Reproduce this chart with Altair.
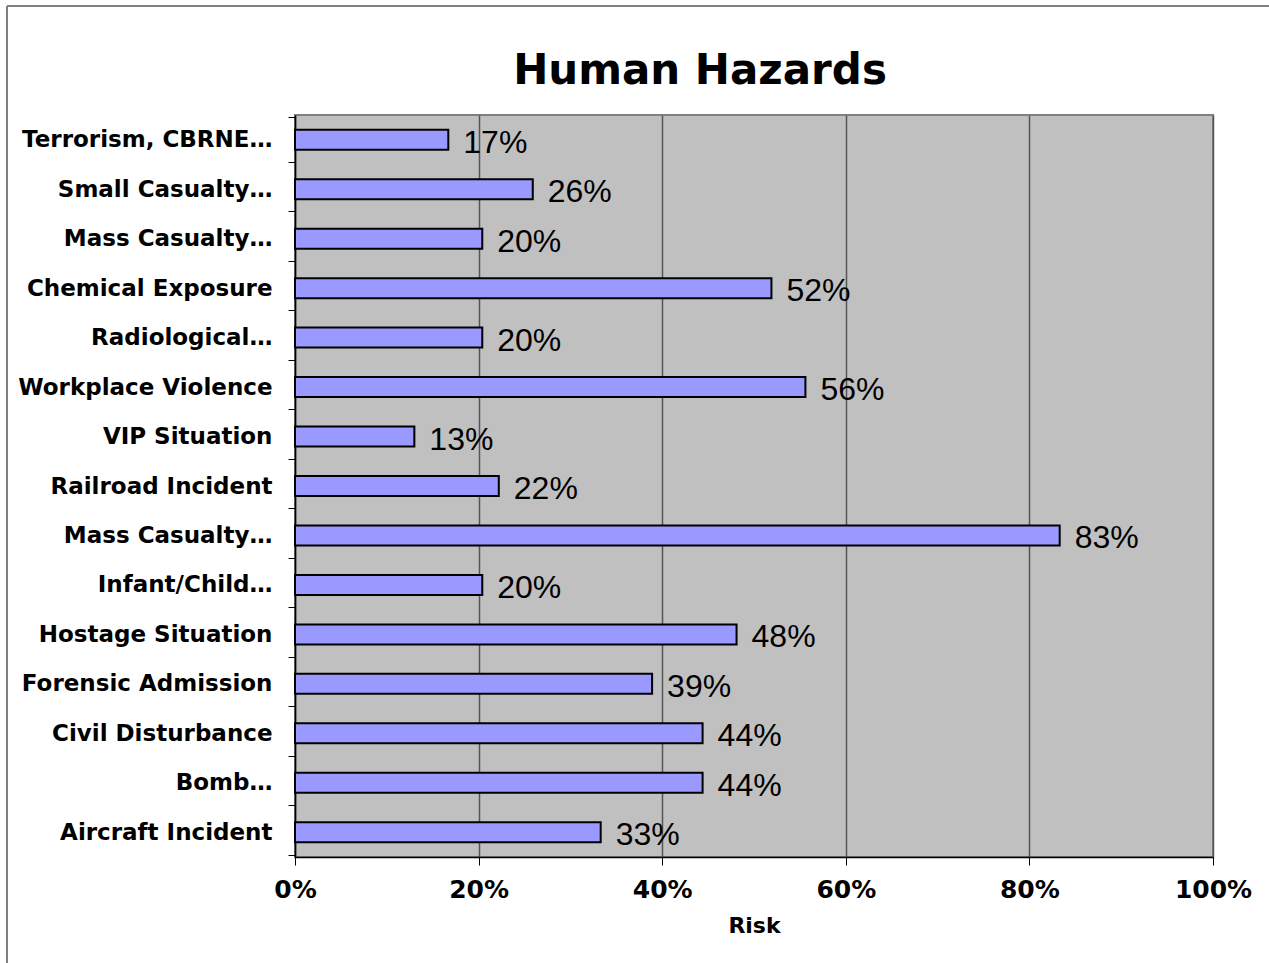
import altair as alt
import pandas as pd
import json

title_text = ["Human Hazards"]
categories = [
    "Terrorism, CBRNE…",
    "Small Casualty…",
    "Mass Casualty…",
    "Chemical Exposure",
    "Radiological…",
    "Workplace Violence",
    "VIP Situation",
    "Railroad Incident",
    "Mass Casualty…",
    "Infant/Child…",
    "Hostage Situation",
    "Forensic Admission",
    "Civil Disturbance",
    "Bomb…",
    "Aircraft Incident",
]
risk = [0.167, 0.259, 0.204, 0.519, 0.204, 0.556, 0.130, 0.222, 0.833,
        0.204, 0.481, 0.389, 0.444, 0.444, 0.333]
x_ticks = [0, 0.2, 0.4, 0.6, 0.8, 1.0]

df = pd.DataFrame({"idx": list(range(len(categories))), "label": categories, "risk": risk})
one = pd.DataFrame({"t": title_text})

W, H = 918, 742
label_expr = json.dumps(categories, ensure_ascii=False) + "[datum.value]"

base = alt.Chart(df)

bars = base.mark_bar(size=20, fill="#9999FF", stroke="black", strokeWidth=2).encode(
    x=alt.X("risk:Q", scale=alt.Scale(domain=[0, 1], nice=False),
            axis=alt.Axis(values=x_ticks, format=".0%", title="Risk",
                          grid=True, gridColor="#555555", gridWidth=1.5,
                          domainColor="black", domainWidth=1.5,
                          tickColor="black", tickSize=8, tickWidth=1,
                          labelFlush=False,
                          labelFont="DejaVu Sans", labelFontWeight="bold",
                          labelFontSize=25, labelColor="black", labelPadding=12,
                          titleFont="DejaVu Sans", titleFontWeight="bold",
                          titleFontSize=22, titleColor="black", titlePadding=13)),
    y=alt.Y("idx:O", title=None,
            axis=alt.Axis(labelExpr=label_expr, tickBand="extent",
                          domainColor="black", domainWidth=1.5,
                          tickColor="black", tickSize=7, tickWidth=1,
                          labelFont="DejaVu Sans", labelFontWeight="bold",
                          labelFontSize=23, labelColor="black", labelPadding=16,
                          labelLimit=400)),
)

texts = base.mark_text(align="left", baseline="middle", dx=15, dy=3,
                       font="Liberation Sans", fontSize=32, color="black").encode(
    x="risk:Q",
    y="idx:O",
    text=alt.Text("risk:Q", format=".0%"),
)

title = alt.Chart(one).mark_text(align="center", baseline="alphabetic",
                                 font="DejaVu Sans", fontSize=42, fontWeight="bold",
                                 color="black").encode(
    text="t:N", x=alt.value(405), y=alt.value(-31))

border_left = alt.Chart(one).mark_rule(color="#808080", strokeWidth=2).encode(
    x=alt.value(-288), y=alt.value(-109), y2=alt.value(H + 120))
border_top = alt.Chart(one).mark_rule(color="#808080", strokeWidth=2).encode(
    x=alt.value(-288), x2=alt.value(W + 80), y=alt.value(-109))

chart = alt.layer(bars, texts, title, border_left, border_top).properties(
    width=W, height=H,
    autosize=alt.AutoSizeParams(type="none"),
    padding={"left": 295, "top": 115, "right": 56, "bottom": 106},
    background="white",
).configure_view(stroke="#808080", strokeWidth=2, fill="#C0C0C0")

chart.save("out.html", embed_options={"renderer": "svg", "actions": False})
